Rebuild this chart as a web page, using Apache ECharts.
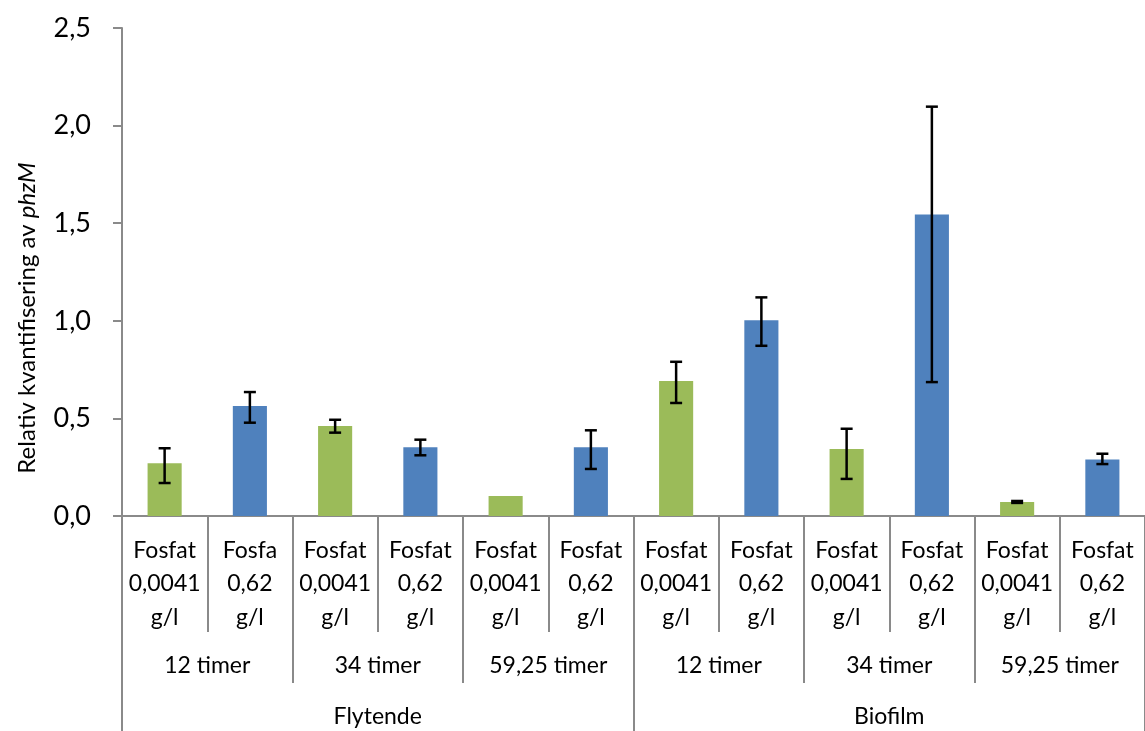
<!DOCTYPE html>
<html>
<head>
<meta charset="utf-8">
<script src="https://cdn.jsdelivr.net/npm/echarts@6/dist/echarts.min.js"></script>
<style>
html,body{margin:0;padding:0;background:#fff;}
#chart{width:1145px;height:731px;}
</style>
</head>
<body>
<div id="chart"></div>
<script>
// ---- data ----
const categoriesL1 = [
  'Fosfat\n0,0041\ng/l', 'Fosfa\n0,62\ng/l',
  'Fosfat\n0,0041\ng/l', 'Fosfat\n0,62\ng/l',
  'Fosfat\n0,0041\ng/l', 'Fosfat\n0,62\ng/l',
  'Fosfat\n0,0041\ng/l', 'Fosfat\n0,62\ng/l',
  'Fosfat\n0,0041\ng/l', 'Fosfat\n0,62\ng/l',
  'Fosfat\n0,0041\ng/l', 'Fosfat\n0,62\ng/l'
];
const categoriesL2 = ['12 timer', '34 timer', '59,25 timer', '12 timer', '34 timer', '59,25 timer'];
const categoriesL3 = ['Flytende', 'Biofilm'];
const values  = [0.27, 0.563, 0.461, 0.352, 0.102, 0.352, 0.692, 1.003, 0.343, 1.544, 0.072, 0.29];
const errLow  = [0.169, 0.478, 0.427, 0.311, null, 0.241, 0.579, 0.872, 0.19, 0.686, 0.067, 0.266];
const errHigh = [0.347, 0.635, 0.493, 0.391, null, 0.439, 0.79, 1.12, 0.447, 2.097, 0.077, 0.319];
const yTicks = [0, 0.5, 1.0, 1.5, 2.0, 2.5];

// ---- styles ----
const GREEN = '#9BBB59';
const BLUE = '#4F81BD';
const GRAY = '#8a8a8a';
const FONT = 'Lato';

const barData = values.map((v, i) => ({
  value: v,
  itemStyle: { color: i % 2 === 0 ? GREEN : BLUE }
}));
const errData = [];
values.forEach((v, i) => {
  if (errLow[i] !== null && errHigh[i] !== null) errData.push([i, errLow[i], errHigh[i]]);
});

const chart = echarts.init(document.getElementById('chart'), null, { renderer: 'canvas' });
const option = {
  animation: false,
  backgroundColor: '#fff',
  textStyle: { fontFamily: FONT },
  grid: { left: 122, right: 0, top: 28, bottom: 215, containLabel: false },
  xAxis: [
    {
      type: 'category', position: 'bottom', data: categoriesL1,
      axisLine: { show: true, lineStyle: { color: GRAY, width: 2 } },
      axisTick: { show: true, interval: 0, length: 116, lineStyle: { color: GRAY, width: 2 } },
      axisLabel: { interval: 0, fontSize: 23, lineHeight: 33.5, color: '#000', fontFamily: FONT,
                   margin: 68, verticalAlign: 'middle' },
      splitLine: { show: false }
    },
    {
      type: 'category', position: 'bottom', data: categoriesL2,
      axisLine: { show: false },
      axisTick: { show: true, interval: 0, length: 167, lineStyle: { color: GRAY, width: 2 } },
      axisLabel: { interval: 0, fontSize: 23, color: '#000', fontFamily: FONT,
                   margin: 150, verticalAlign: 'middle' },
      splitLine: { show: false }
    },
    {
      type: 'category', position: 'bottom', data: categoriesL3,
      axisLine: { show: false },
      axisTick: { show: true, interval: 0, length: 220, lineStyle: { color: GRAY, width: 2 } },
      axisLabel: { interval: 0, fontSize: 23, color: '#000', fontFamily: FONT,
                   margin: 201, verticalAlign: 'middle' },
      splitLine: { show: false }
    }
  ],
  yAxis: {
    type: 'value', min: yTicks[0], max: yTicks[yTicks.length - 1], interval: 0.5,
    axisLine: { show: true, lineStyle: { color: GRAY, width: 2 } },
    axisTick: { show: true, length: 9, lineStyle: { color: GRAY, width: 2 } },
    axisLabel: { fontSize: 27, color: '#000', fontFamily: FONT, margin: 31,
                 formatter: v => v.toFixed(1).replace('.', ',') },
    splitLine: { show: false }
  },
  series: [
    {
      type: 'bar', xAxisIndex: 0, data: barData, barWidth: '40%', z: 2
    },
    {
      type: 'custom', xAxisIndex: 0, data: errData, z: 5,
      encode: { x: 0, y: [1, 2] },
      renderItem: function (params, api) {
        const x = api.value(0);
        const lo = api.coord([x, api.value(1)]);
        const hi = api.coord([x, api.value(2)]);
        const half = 6;
        const style = { stroke: '#000', lineWidth: 2.5 };
        return {
          type: 'group',
          children: [
            { type: 'line', shape: { x1: lo[0], y1: lo[1], x2: hi[0], y2: hi[1] }, style: style },
            { type: 'line', shape: { x1: lo[0] - half, y1: lo[1], x2: lo[0] + half, y2: lo[1] }, style: style },
            { type: 'line', shape: { x1: hi[0] - half, y1: hi[1], x2: hi[0] + half, y2: hi[1] }, style: style }
          ]
        };
      }
    }
  ],
  graphic: [
    {
      type: 'text', x: 27, y: 318, rotation: Math.PI / 2,
      style: {
        text: '{a|Relativ kvantifisering av }{b|phzM}',
        align: 'center', verticalAlign: 'middle',
        rich: {
          a: { fontSize: 24, fontFamily: FONT, fill: '#000' },
          b: { fontSize: 24, fontFamily: FONT, fontStyle: 'italic', fill: '#000' }
        }
      }
    }
  ]
};
chart.setOption(option);
</script>
</body>
</html>
